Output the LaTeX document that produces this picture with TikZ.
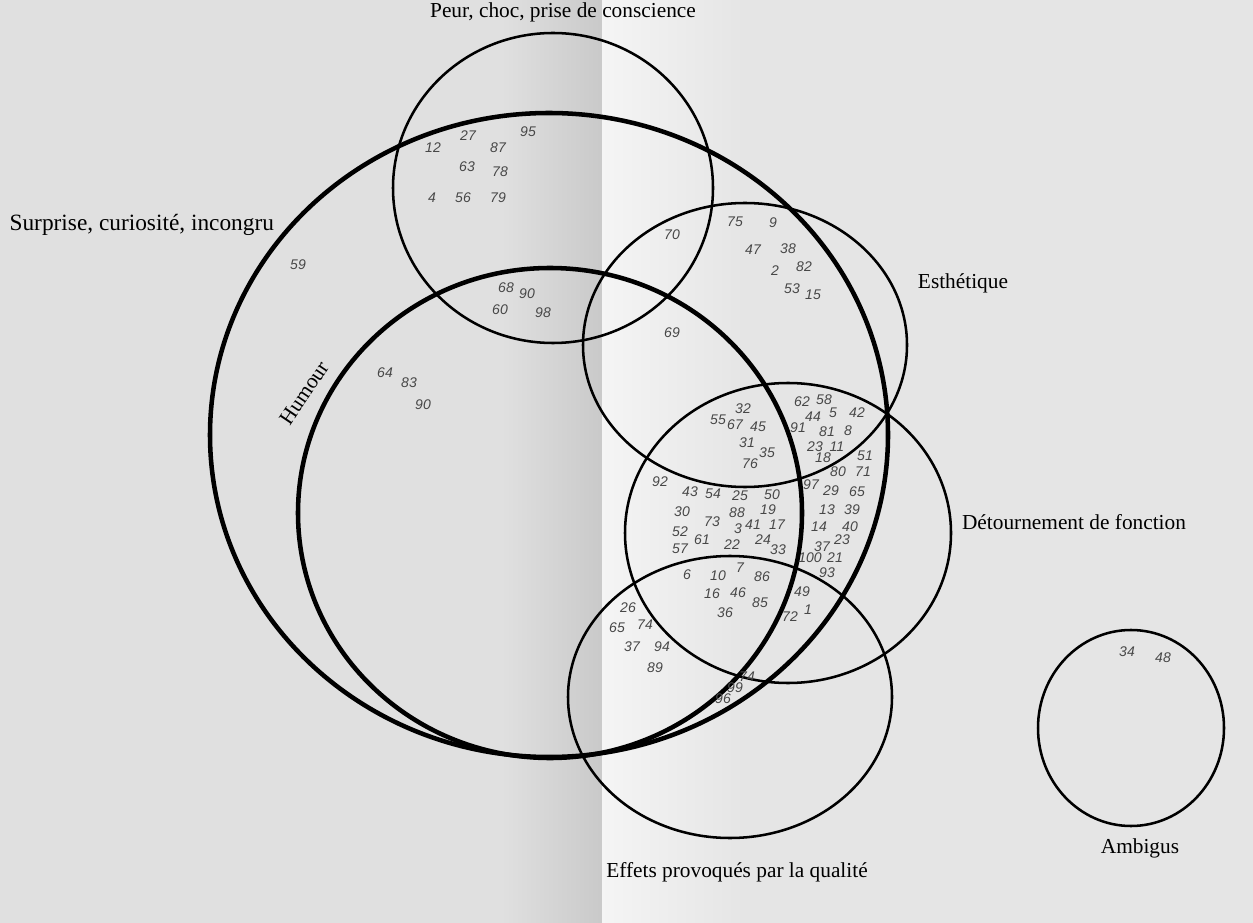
\documentclass[tikz,border=0pt]{standalone}
\usepackage{fontspec}
\setmainfont{Liberation Serif}
\newfontfamily\handfont{Liberation Sans}

\begin{document}
\begin{tikzpicture}[x=0.75pt,y=-0.75pt]
    \tikzset{thinset/.style={line width=1.9pt}, thickset/.style={line width=3.4pt},
        setlabel/.style={font=\fontsize{16}{18}\selectfont, inner sep=1pt},
        item/.style={font=\handfont\itshape\fontsize{10.5}{12}\selectfont, text=black!72, inner sep=0pt}}
    % paper and fold
    \fill[black!12] (0,0) rectangle (1253,923);
    \shade[left color=black!12, right color=black!21] (500,0) rectangle (602,923);
    \shade[left color=black!4, right color=black!10] (602,0) rectangle (740,923);
    \fill[black!10] (740,0) rectangle (1253,923);
    \useasboundingbox (0,0) rectangle (1253,923);
    % sets
    \draw[thinset] (553,188) ellipse [x radius=160, y radius=155]; %peur
    \draw[thickset] (549,435) ellipse [x radius=339, y radius=322]; %surprise
    \draw[thickset] (550,513) ellipse [x radius=252, y radius=245]; %humour
    \draw[thinset] (745,345) ellipse [x radius=162, y radius=142]; %esthetique
    \draw[thinset] (788,533) ellipse [x radius=163, y radius=150]; %detournement
    \draw[thinset] (730,697) ellipse [x radius=162, y radius=141]; %effets
    \draw[thinset] (1131,728) ellipse [x radius=93, y radius=98]; %ambigus
    % set names
    \node[setlabel] (peur) at (563,12) {Peur, choc, prise de conscience};
    \node[setlabel, anchor=west, font=\fontsize{17.5}{19}\selectfont] (surprise) at (8,225) {Surprise, curiosité, incongru};
    \node[setlabel] (esthetique) at (963,283) {Esthétique};
    \node[setlabel, rotate=56] (humour) at (304,393) {Humour};
    \node[setlabel] (detournement) at (1074,522) {Détournement de fonction};
    \node[setlabel] (effets) at (737,872) {Effets provoqués par la qualité};
    \node[setlabel] (ambigus) at (1140,848) {Ambigus};
    % items
    \foreach \n/\x/\y [count=\i] in {12/433/148, 27/468/136, 95/528/132, 87/498/148, 63/467/167, 78/500/172,
        4/432/198, 56/463/198, 79/498/198, 68/506/288, 90/527/294, 60/500/310, 98/543/313,
        59/298/265, 64/385/373, 83/409/383, 90/423/405,
        70/672/235, 75/735/222, 9/773/223, 47/753/250, 38/788/249, 2/775/271, 82/804/267,
        53/792/289, 15/813/295, 69/672/333,
        32/743/409, 55/718/420, 67/735/425, 45/758/427, 31/747/443, 35/767/453, 76/750/464,
        62/802/402, 58/824/400, 44/813/417, 5/833/413, 42/857/413, 91/798/428, 81/827/432,
        8/848/431, 23/815/447, 11/837/447, 18/823/458, 51/865/456, 80/838/472, 71/863/472,
        97/811/485, 29/831/491, 65/857/492, 13/827/510, 39/852/510, 14/819/527, 40/850/527,
        37/822/547, 23/842/540, 100/810/558, 21/835/558, 93/827/573, 49/802/592, 72/790/617, 1/808/610,
        92/660/482, 43/690/492, 54/713/494, 25/740/496, 50/772/495, 30/682/512, 88/737/513,
        19/768/510, 73/712/522, 3/738/529, 41/753/525, 17/777/525, 52/680/532, 61/702/540,
        24/763/540, 57/680/549, 22/732/545, 33/778/550,
        6/687/575, 10/718/576, 7/740/568, 86/762/577, 16/712/594, 46/738/593, 85/760/603, 36/725/613,
        26/628/608, 65/617/628, 74/645/625, 37/632/647, 94/662/647, 89/655/668,
        74/747/677, 99/735/688, 96/723/699, 34/1127/652, 48/1163/658}
        \node[item] (item\i) at (\x,\y) {\n};
\end{tikzpicture}
\end{document}
